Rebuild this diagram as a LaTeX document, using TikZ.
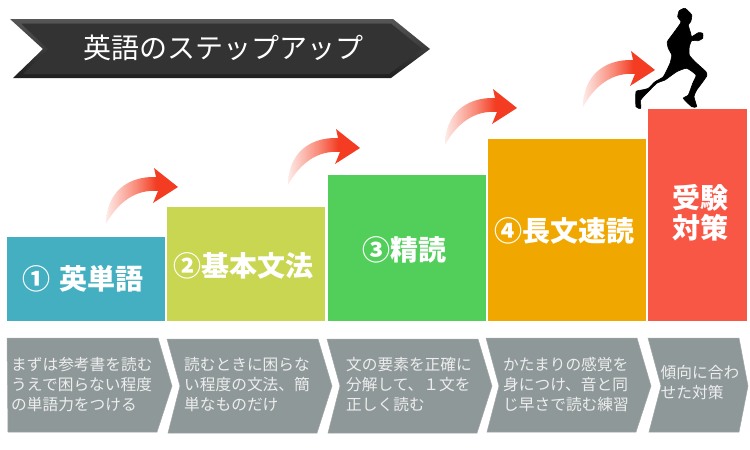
\documentclass[tikz,border=0pt]{standalone}
\usepackage{fontspec}
\setmainfont[BoldFont={Noto Sans CJK JP Black}]{Noto Sans CJK JP}
\usepackage{xcolor}
\usepackage{tikz}
\usetikzlibrary{positioning}

\definecolor{stepteal}{HTML}{43AFC1}
\definecolor{stepolive}{HTML}{C9D651}
\definecolor{stepgreen}{HTML}{52CE5B}
\definecolor{steporange}{HTML}{F0A800}
\definecolor{stepred}{HTML}{F85746}
\definecolor{chevgray}{HTML}{8F9899}
\definecolor{bannerdark}{HTML}{333333}
\definecolor{arrowpale}{HTML}{FDEBE8}
\definecolor{arrowmid}{HTML}{F98A78}
\definecolor{arrowred}{HTML}{F33C22}

\pgfdeclarehorizontalshading{stepfade}{100bp}{
  color(0bp)=(arrowpale); color(25bp)=(arrowpale); color(46bp)=(arrowmid);
  color(60bp)=(arrowred); color(100bp)=(arrowred)}

\tikzset{
  stepbox/.style={inner sep=0pt, anchor=north west},
  steplabel/.style={text=white, font=\bfseries\fontsize{28}{30}\selectfont, inner sep=0pt, align=center},
  chevron/.style={fill=chevgray, draw=chevgray!85!white, line width=0.5pt},
  chevtext/.style={text=white!93!black, font=\fontsize{15.7}{20}\selectfont, inner sep=0pt, anchor=west, align=left},
  curvearrow/.pic={
    \shade[shading=stepfade] (0,0) .. controls (0,-30) and (20,-48) .. (50,-47)
      -- (48,-56) -- (72,-37) -- (47,-21) -- (52,-33)
      .. controls (30,-35) and (12,-22) .. (0,0) -- cycle;
  }
}

\begin{document}
\begin{tikzpicture}[x=1pt, y=-1pt]
  \useasboundingbox (0,0) rectangle (750,450);

  \shade[top color=black!66, bottom color=black!88] (10,19) -- (393,19) -- (430,49) -- (391,78) -- (13,78) -- (43,49) -- cycle;
  \fill[bannerdark] (21,23.5) -- (391,23.5) -- (422,49) -- (389,74) -- (23,74) -- (48,49) -- cycle;
  \node[text=white, font=\fontsize{28}{28}\selectfont, inner sep=0pt] (title) at (223,48) {英語のステップアップ};

  \node[stepbox, fill=stepteal, minimum width=158pt, minimum height=84pt] (box1) at (7,237) {};
  \node[stepbox, fill=stepolive, minimum width=158pt, minimum height=114pt] (box2) at (167,207) {};
  \node[stepbox, fill=stepgreen, minimum width=158pt, minimum height=146pt] (box3) at (328,175) {};
  \node[stepbox, fill=steporange, minimum width=158pt, minimum height=182pt] (box4) at (488,139) {};
  \node[stepbox, fill=stepred, minimum width=99pt, minimum height=212pt] (box5) at (648,109) {};

  \node[steplabel] (label1) at (83,279) {①\hspace{9pt}英単語};
  \node[steplabel] (label2) at (243.5,266) {②基本文法};
  \node[steplabel] (label3) at (404.5,250) {③精読};
  \node[steplabel] (label4) at (564.5,231) {④長文速読};
  \node[steplabel] (label5) at (700.5,213) {受験\\対策};

  \pic at (106,224) {curvearrow};
  \pic at (288,185) {curvearrow};
  \pic at (445,145) {curvearrow};
  \pic at (583,107) {curvearrow};

  \filldraw[black, line width=0.6pt, even odd rule] plot[smooth cycle, tension=0.3] coordinates {
    (685,8.3) (691.7,15) (690.7,21.7) (688.3,25) (690.7,33.3) (691.7,36.7) (698.3,32.7)
    (702.7,33.3) (702.7,38.3) (698.3,40.7) (691.7,40.7) (689.3,46.7) (689.3,55) (695,61.7)
    (706,71.7) (706.7,76) (701.7,83.3) (696.7,90) (694,96.7) (696.7,106.7) (691.7,106.7)
    (683.3,98.3) (688.3,95) (692.7,83.3) (696,75) (686.7,68.3) (676.7,71.7) (665,80)
    (656.7,83.3) (645,95) (640.7,100) (640.7,108.3) (636,106.7) (636,91.7) (641.7,90)
    (648.3,88.3) (655,81.7) (663.3,76.7) (670,63.3) (671.7,55) (668.3,48.3) (667.3,41.7)
    (673.3,33.3) (679.3,25) (681,21.7) (677.7,16.7) (679.3,10.7)};

  \draw[chevron] (7,338) -- (158,338) -- (172,386) -- (157,432) -- (8,432) -- cycle;
  \draw[chevron] (167,339) -- (318,339) -- (332,386) -- (317,433) -- (168,433) -- (180,386) -- cycle;
  \draw[chevron] (327,339) -- (478,339) -- (492,386) -- (477,433) -- (328,433) -- (340,386) -- cycle;
  \draw[chevron] (486,338) -- (637,338) -- (651,386) -- (636,432) -- (487,432) -- (499,386) -- cycle;
  \draw[chevron] (648,338) -- (739,338) -- (748,386) -- (739,432) -- (649,432) -- (661,386) -- cycle;

  \node[chevtext] (note1) at (11,385) {まずは参考書を読む\\うえで困らない程度\\の単語力をつける};
  \node[chevtext] (note2) at (184,385) {読むときに困らな\\い程度の文法、簡\\単なものだけ};
  \node[chevtext] (note3) at (346,385) {文の要素を正確に\\分解して、１文を\\正しく読む};
  \node[chevtext] (note4) at (503,385) {かたまりの感覚を\\身につけ、音と同\\じ早さで読む練習};
  \node[chevtext] (note5) at (660.5,383) {傾向に合わ\\せた対策};
\end{tikzpicture}
\end{document}
